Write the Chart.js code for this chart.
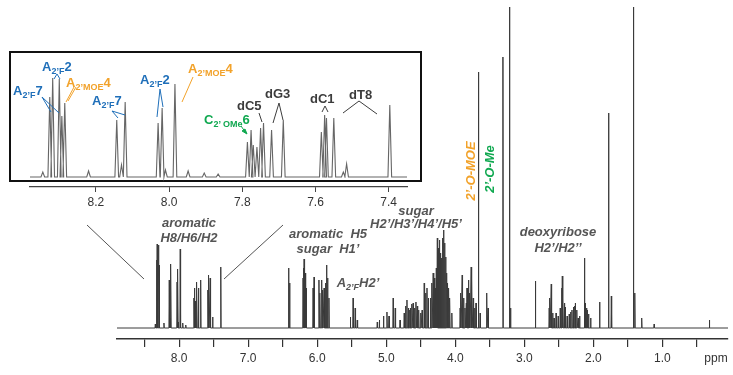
<!DOCTYPE html>
<html>
<head>
<meta charset="utf-8">
<script src="https://cdn.jsdelivr.net/npm/chart.js@4.4.1/dist/chart.umd.min.js"></script>
<style>
  body { margin: 0; background: #fff; font-family: "Liberation Sans", Arial, sans-serif; }
  #wrap { position: relative; width: 733px; height: 375px; overflow: hidden; background: #fff; }
  .abs { position: absolute; white-space: nowrap; }
  .lab { position: absolute; white-space: nowrap; font: bold 13px "Liberation Sans", Arial, sans-serif; line-height: 13px; }
  .lab .s { font-size: 9px; vertical-align: -3px; line-height: 0; }
  .blue { color: #1f6fb9; }
  .orange { color: #f2a22a; }
  .green { color: #10a850; }
  .dark { color: #3c3c3c; }
  .note { position: absolute; white-space: nowrap; font: italic bold 13px "Liberation Sans", Arial, sans-serif; color: #555; text-align: center; transform: translate(-50%, -50%); }
  .note .s { font-size: 9px; vertical-align: -3px; line-height: 0; }
  .rot { position: absolute; white-space: nowrap; font: italic bold 13px "Liberation Sans", Arial, sans-serif; line-height: 13px; transform: translate(-50%, -50%) rotate(-90deg); }
  #box { position: absolute; left: 9px; top: 51px; width: 413px; height: 131px; box-sizing: border-box; border: 2px solid #111; background: #fff; }
</style>
</head>
<body>
<div id="wrap">
  <canvas id="main" class="abs" style="left:0;top:0" width="733" height="375"></canvas>
  <div id="box"></div>
  <canvas id="inset" class="abs" style="left:0;top:51px" width="430" height="165"></canvas>

  <svg class="abs" style="left:0;top:0" width="733" height="375">
    <g stroke="#555" stroke-width="1" fill="none">
      <line x1="87" y1="225" x2="144" y2="279"/>
      <line x1="283" y1="225" x2="224" y2="279"/>
    </g>
    <g stroke="#1f6fb9" stroke-width="1" fill="none">
      <line x1="42" y1="97" x2="51" y2="112"/>
      <line x1="42" y1="97" x2="59" y2="113"/>
      <line x1="57" y1="74" x2="54" y2="79"/>
      <line x1="57" y1="74" x2="60" y2="79"/>
      <line x1="112" y1="111" x2="118" y2="118"/>
      <line x1="112" y1="111" x2="125" y2="115"/>
      <line x1="160" y1="89" x2="157" y2="117"/>
      <line x1="160" y1="89" x2="163" y2="107"/>
    </g>
    <g stroke="#f2a22a" stroke-width="1" fill="none">
      <line x1="74" y1="87" x2="66" y2="102"/>
      <line x1="76" y1="87" x2="68" y2="101"/>
      <line x1="193" y1="77" x2="182" y2="102"/>
    </g>
    <g stroke="#10a850" stroke-width="1" fill="#10a850">
      <line x1="241" y1="126" x2="246" y2="133"/>
      <polygon points="247,134 242,131 245,129"/>
    </g>
    <g stroke="#3c3c3c" stroke-width="1" fill="none">
      <line x1="259" y1="113" x2="262" y2="122"/>
      <line x1="279" y1="103" x2="273" y2="123"/>
      <line x1="279" y1="103" x2="283" y2="120"/>
      <line x1="325" y1="106" x2="322" y2="112"/>
      <line x1="325" y1="106" x2="328" y2="112"/>
      <line x1="359" y1="101" x2="343" y2="113"/>
      <line x1="359" y1="101" x2="377" y2="114"/>
    </g>
  </svg>

  <div class="lab blue" style="left:13px;top:84px">A<span class="s">2’F</span>7</div>
  <div class="lab blue" style="left:42px;top:60px">A<span class="s">2’F</span>2</div>
  <div class="lab orange" style="left:66px;top:76px">A<span class="s">2’MOE</span>4</div>
  <div class="lab blue" style="left:92px;top:94px">A<span class="s">2’F</span>7</div>
  <div class="lab blue" style="left:140px;top:73px">A<span class="s">2’F</span>2</div>
  <div class="lab orange" style="left:188px;top:62px">A<span class="s">2’MOE</span>4</div>
  <div class="lab green" style="left:204px;top:113px">C<span class="s">2’ OMe</span>6</div>
  <div class="lab dark" style="left:237px;top:99px">dC5</div>
  <div class="lab dark" style="left:265px;top:87px">dG3</div>
  <div class="lab dark" style="left:310px;top:92px">dC1</div>
  <div class="lab dark" style="left:349px;top:88px">dT8</div>

  <div class="note" style="left:189px;top:230px;line-height:15px">aromatic<br>H8/H6/H2</div>
  <div class="note" style="left:328px;top:241px;line-height:15px">aromatic&nbsp; H5<br>sugar&nbsp; H1’</div>
  <div class="note" style="left:358px;top:282px;line-height:13px">A<span class="s">2’F</span>H2’</div>
  <div class="note" style="left:416px;top:217px;line-height:13px">sugar<br>H2’/H3’/H4’/H5’</div>
  <div class="note" style="left:558px;top:240px;line-height:16px">deoxyribose<br>H2’/H2’’</div>
  <div class="rot orange" style="left:470px;top:171px">2’-O-MOE</div>
  <div class="rot green" style="left:489px;top:169px">2’-O-Me</div>
  <div class="abs" style="left:716px;top:358px;transform:translate(-50%,-50%);font-size:12px;color:#333">ppm</div>
</div>

<script>
// main spectrum: peak positions (ppm) and heights (baseline = 0)
const mainPeakPpm = [
  8.345, 8.326, 8.318, 8.300, 8.293, 8.285, 8.220, 8.143, 8.130, 8.120,
  8.030, 8.019, 8.010, 7.984, 7.948, 7.904, 7.786, 7.776, 7.770, 7.760,
  7.750, 7.742, 7.720, 7.688, 7.584, 7.575, 7.570, 7.550, 7.515, 7.397,
  6.415, 6.400, 6.205, 6.195, 6.190, 6.180, 6.175, 6.160, 6.060, 6.045,
  5.975, 5.960, 5.935, 5.920, 5.900, 5.880, 5.865, 5.850, 5.830, 5.520,
  5.480, 5.450, 5.420, 5.130, 5.100, 5.040, 4.990, 4.960, 4.900, 4.870,
  4.800, 4.740, 4.720, 4.700, 4.680, 4.660, 4.650, 4.630, 4.610, 4.590,
  4.570, 4.550, 4.530, 4.500, 4.480, 4.450, 4.430, 4.410, 4.390, 4.360,
  4.340, 4.320, 4.305, 4.290, 4.275, 4.260, 4.245, 4.230, 4.215, 4.200,
  4.185, 4.170, 4.155, 4.140, 4.125, 4.110, 4.095, 4.080, 4.050, 3.930,
  3.920, 3.900, 3.880, 3.860, 3.840, 3.830, 3.810, 3.800, 3.790, 3.770,
  3.760, 3.740, 3.720, 3.700, 3.665, 3.640, 3.545, 3.525, 3.310, 3.215,
  3.200, 2.840, 2.640, 2.630, 2.610, 2.590, 2.570, 2.540, 2.510, 2.480,
  2.460, 2.450, 2.440, 2.420, 2.410, 2.380, 2.350, 2.330, 2.310, 2.290,
  2.270, 2.260, 2.240, 2.220, 2.200, 2.130, 2.120, 2.100, 2.090, 2.070,
  2.040, 1.910, 1.780, 1.740, 1.420, 1.400, 1.300, 1.120, 0.320
];
const mainPeakHeight = [
  4, 68, 84, 83, 52, 63, 5, 48, 10, 64,
  46, 59, 6, 79, 5, 3, 30, 40, 27, 26,
  42, 46, 40, 48, 38, 53, 50, 50, 11, 61,
  60, 45, 50, 60, 69, 50, 55, 40, 40, 51,
  48, 35, 48, 38, 40, 45, 63, 50, 30, 11,
  30, 20, 8, 6, 8, 12, 16, 12, 30, 20,
  8, 15, 22, 28, 20, 18, 20, 24, 25, 20,
  26, 22, 18, 15, 18, 45, 35, 40, 30, 30,
  45, 55, 50, 40, 60, 90, 80, 88, 75, 70,
  90, 98, 85, 71, 55, 45, 40, 30, 15, 20,
  35, 53, 30, 20, 25, 40, 48, 35, 30, 61,
  50, 30, 20, 25, 256, 15, 35, 20, 271, 321,
  20, 47, 20, 30, 44, 15, 10, 15, 12, 20,
  40, 52, 30, 25, 21, 12, 14, 16, 18, 21,
  22, 25, 18, 10, 12, 70, 25, 20, 18, 14,
  10, 26, 215, 32, 321, 35, 10, 4, 8
];
const mainTickLabels = ['8.0', '7.0', '6.0', '5.0', '4.0', '3.0', '2.0', '1.0'];

// inset: aromatic region 8.4 - 7.35 ppm
const insetPeakPpm = [
  8.345, 8.326, 8.318, 8.300, 8.293, 8.285, 8.220, 8.143, 8.130, 8.120,
  8.030, 8.019, 8.010, 7.984, 7.948, 7.904, 7.866, 7.786, 7.776, 7.770,
  7.760, 7.750, 7.742, 7.720, 7.688, 7.584, 7.575, 7.570, 7.550, 7.524,
  7.515, 7.397
];
const insetPeakHeight = [
  5, 80, 99, 98, 61, 74, 6, 57, 12, 75,
  54, 69, 7, 93, 6, 4, 3, 35, 47, 32,
  30, 49, 54, 47, 57, 45, 62, 59, 59, 5,
  13, 72
];
const insetTickLabels = ['8.2', '8.0', '7.8', '7.6', '7.4'];

const FONT = '"Liberation Sans", Arial, sans-serif';

function trace(ppm, height, from, to, hw) {
  const order = ppm.map((p, i) => i).sort((a, b) => ppm[b] - ppm[a]);
  const pts = [{ x: from, y: 0 }];
  order.forEach(i => {
    pts.push({ x: ppm[i] + hw, y: 0 }, { x: ppm[i], y: height[i] }, { x: ppm[i] - hw, y: 0 });
  });
  pts.push({ x: to, y: 0 });
  return pts;
}

new Chart(document.getElementById('main').getContext('2d'), {
  type: 'scatter',
  data: {
    datasets: [{
      data: trace(mainPeakPpm, mainPeakHeight, 8.9, 0.05, 0.005),
      showLine: true,
      borderColor: '#3a3a3a',
      borderWidth: 1,
      pointRadius: 0,
      tension: 0
    }]
  },
  options: {
    responsive: false,
    animation: false,
    layout: { padding: { left: 117, right: 5, top: 0, bottom: 0 } },
    plugins: { legend: { display: false }, tooltip: { enabled: false } },
    scales: {
      x: {
        type: 'linear',
        reverse: true,
        min: 0.05,
        max: 8.9,
        border: { display: true, color: '#333', width: 1.5 },
        grid: { drawOnChartArea: false, drawTicks: true, tickLength: 8, color: '#333', lineWidth: 1.2 },
        ticks: {
          stepSize: 0.5,
          includeBounds: false,
          autoSkip: false,
          maxRotation: 0,
          padding: 4,
          color: '#333',
          font: { size: 12, family: FONT },
          callback: v => mainTickLabels.includes(v.toFixed(1)) ? v.toFixed(1) : ''
        },
        afterFit: s => { s.height = 36; }
      },
      y: { display: false, min: -11, max: 328 }
    }
  }
});

new Chart(document.getElementById('inset').getContext('2d'), {
  type: 'scatter',
  data: {
    datasets: [{
      data: trace(insetPeakPpm, insetPeakHeight, 8.38, 7.35, 0.005),
      showLine: true,
      borderColor: '#666',
      borderWidth: 1.1,
      pointRadius: 0,
      tension: 0
    }]
  },
  options: {
    responsive: false,
    animation: false,
    layout: { padding: { left: 30, right: 23, top: 4, bottom: 0 } },
    plugins: { legend: { display: false }, tooltip: { enabled: false } },
    scales: {
      x: {
        type: 'linear',
        reverse: true,
        min: 7.35,
        max: 8.38,
        border: { display: true, color: '#444', width: 1.2 },
        grid: { drawOnChartArea: false, drawTicks: true, tickLength: 5, color: '#444', lineWidth: 1 },
        ticks: {
          stepSize: 0.2,
          includeBounds: false,
          autoSkip: false,
          maxRotation: 0,
          padding: 3,
          color: '#333',
          font: { size: 12, family: FONT },
          callback: v => insetTickLabels.includes(v.toFixed(1)) ? v.toFixed(1) : ''
        },
        afterFit: s => { s.height = 29; }
      },
      y: { display: false, min: -10, max: 122 }
    }
  }
});
</script>
</body>
</html>
